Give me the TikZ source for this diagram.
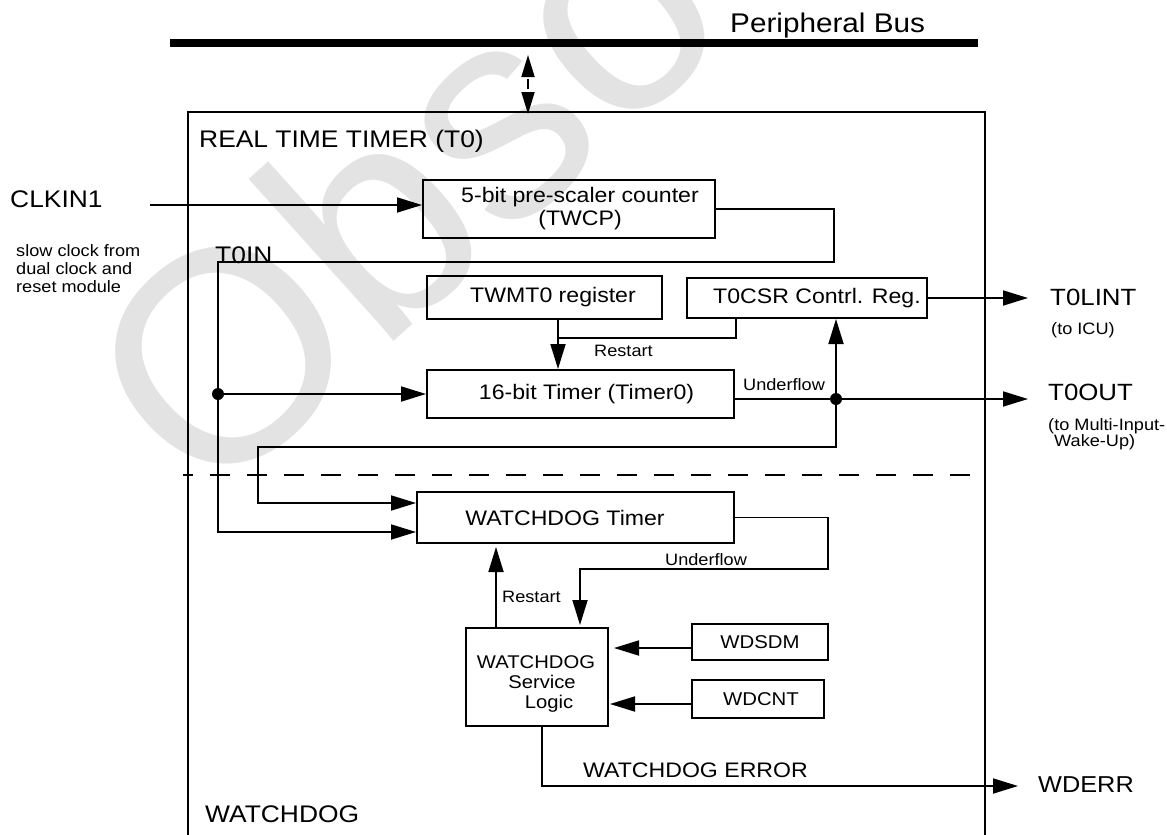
\documentclass[tikz,border=0pt]{standalone}
\usepackage{fontspec}
\setmainfont{Liberation Sans}[FakeStretch=1.1]
\newfontfamily\wmfont{Liberation Sans}
\usetikzlibrary{arrows.meta}
\begin{document}
\begin{tikzpicture}[x=1pt,y=-1pt,
  box/.style={draw,line width=2pt,inner sep=0pt,align=center,font=\fontsize{21}{23}\selectfont},
  sbox/.style={box,font=\fontsize{18.5}{20}\selectfont},
  lab/.style={inner sep=0pt,anchor=base west},
  big/.style={lab,font=\fontsize{24}{28}\selectfont},
  mid/.style={lab,font=\fontsize{21}{24}\selectfont},
  small/.style={lab,font=\fontsize{16.5}{18}\selectfont},
  wire/.style={line width=1.8pt},
  arr/.style={wire,-{Triangle[length=25pt,width=15pt]}},
  dot/.style={circle,fill,inner sep=0pt,minimum size=12pt}]
\useasboundingbox (0,0) rectangle (1167,835);
% watermark
\node[lab,font=\wmfont\fontsize{300}{300}\selectfont,text=black!11,rotate=42] (wm) at (206,511) {Obso};
% bus
\coordinate (busL) at (170,43);
\coordinate (busR) at (978,43);
\draw[line width=8pt] (busL) -- (busR);
\node[lab,font=\fontsize{27}{30}\selectfont] (pbus) at (730,32) {Peripheral Bus};
% outer box
\coordinate (bxTL) at (188,112); \coordinate (bxTR) at (985,112);
\coordinate (bxBL) at (188,836); \coordinate (bxBR) at (985,836);
\draw[line width=2pt] (bxBL) -- (bxTL) -- (bxTR) -- (bxBR);
% bus access
\coordinate (busA) at (528,55); \coordinate (boxA) at (528,114);
\draw[wire,arrows={Triangle[length=22pt,width=13pt]-Triangle[length=22pt,width=13pt]},dash pattern=on 0pt off 2pt on 10pt off 30pt] (busA) -- (boxA);
% dashed separator
\coordinate (dl) at (183,475); \coordinate (dr) at (985,475);
\draw[line width=1.8pt,dash pattern=on 20pt off 17pt,dash phase=10pt] (dl) -- (dr);
% labels
\node[big] (rtt) at (199,147) {REAL TIME TIMER (T0)};
\node[big] (clkl) at (10,207) {CLKIN1};
\node[small,align=left,anchor=west] (slow) at (16,269) {slow clock from\\ dual clock and\\ reset module};
\node[big] (t0in) at (215,263) {T0IN};
\node[lab,font=\fontsize{23.5}{26}\selectfont] (t0lint) at (1050,305) {T0LINT};
\node[small] (icu) at (1051,334) {(to ICU)};
\node[lab,font=\fontsize{23.5}{26}\selectfont] (t0out) at (1048,400) {T0OUT};
\node[small,align=left,anchor=west,font=\fontsize{16.5}{15}\selectfont] (mi) at (1048,434) {(to Multi-Input-\\\hspace*{6pt}Wake-Up)};
\node[lab,font=\fontsize{23}{26}\selectfont] (wderr) at (1038,792) {WDERR};
\node[big] (wdl) at (205,822) {WATCHDOG};
\node[mid] (wde) at (583,777) {WATCHDOG ERROR};
\node[small] (rs1) at (594,356) {Restart};
\node[small] (uf1) at (743,390) {Underflow};
\node[small] (uf2) at (665,565) {Underflow};
\node[small] (rs2) at (502,602) {Restart};
% boxes
\node[box,minimum width=292pt,minimum height=58pt] (pre) at (569,209) {\hspace*{22pt}5-bit pre-scaler counter\\\hspace*{22pt}(TWCP)};
\node[box,minimum width=235pt,minimum height=43pt] (twmt) at (544.5,297.5) {\hspace*{17pt}TWMT0 register};
\node[box,minimum width=240pt,minimum height=40pt] (csr) at (807,298) {\hspace*{20pt}T0CSR Contrl. Reg.};
\node[box,minimum width=307pt,minimum height=48pt] (t16) at (580.5,394) {\hspace*{12pt}16-bit Timer (Timer0)};
\node[box,minimum width=317pt,minimum height=51pt] (wdt) at (575.5,517.5) {WATCHDOG Timer\hspace*{21pt}};
\node[box,minimum width=142pt,minimum height=98pt] (wsl) at (537,677) {};
\node[inner sep=0pt,align=center,font=\fontsize{18.4}{20}\selectfont] (wsltxt) at (536,684) {WATCHDOG\\\hspace*{12pt}Service\\\hspace*{26pt}Logic};
\node[sbox,minimum width=136pt,minimum height=36pt] (wdsdm) at (760,642) {WDSDM};
\node[sbox,minimum width=132pt,minimum height=38pt] (wdcnt) at (758,699) {\hspace*{6pt}WDCNT};
% connectors
\coordinate (clk) at (150,205);
\draw[arr] (clk) -- (clk -| pre.west);
\coordinate (pc) at (834,262);
\coordinate (j1) at (218,394);
\draw[wire] (pre.east) -| (pc) -- (pc -| j1) -- (j1);
\draw[arr] (j1) -- (t16.west);
\coordinate (w2) at (218,532);
\draw[arr] (j1) -- (w2) -- (w2 -| wdt.west);
\coordinate (r1) at (558,338); \coordinate (r2) at (736,338);
\draw[wire] (twmt.south -| r1) -- (r1) -- (r2) -- (r2 |- csr.south);
\draw[arr] (r1) -- (r1 |- t16.north);
\coordinate (j2) at (836,399);
\draw[wire] (t16.east |- j2) -- (j2);
\coordinate (t0o) at (1028,399);
\draw[arr] (j2) -- (t0o);
\draw[arr] (j2) -- (j2 |- csr.south);
\coordinate (u1) at (836,447); \coordinate (u2) at (258,503);
\draw[arr] (j2) -- (u1) -| (u2) -- (u2 -| wdt.west);
\coordinate (tli) at (1028,298);
\draw[arr] (csr.east) -- (csr.east -| tli);
\coordinate (wu1) at (828,569); \coordinate (wu2) at (580,569);
\draw[arr,shorten >=2pt] (wdt.east) -| (wu1) -- (wu2) -- (wu2 |- wsl.north);
\coordinate (wr) at (496,600);
\draw[arr,shorten >=3pt] (wsl.north -| wr) -- (wr |- wdt.south);
\coordinate (s1) at ([yshift=-6pt]wdsdm.west);
\draw[arr,shorten >=5pt] (s1) -- (s1 -| wsl.east);
\coordinate (s2) at ([yshift=-5pt]wdcnt.west);
\draw[arr,shorten >=1pt] (s2) -- (s2 -| wsl.east);
\coordinate (e1) at (542,786); \coordinate (e2) at (1018,786);
\draw[arr] (wsl.south -| e1) -- (e1) -- (e2);
\node[dot] (d1) at (j1) {};
\node[dot] (d2) at (j2) {};
\end{tikzpicture}
\end{document}
